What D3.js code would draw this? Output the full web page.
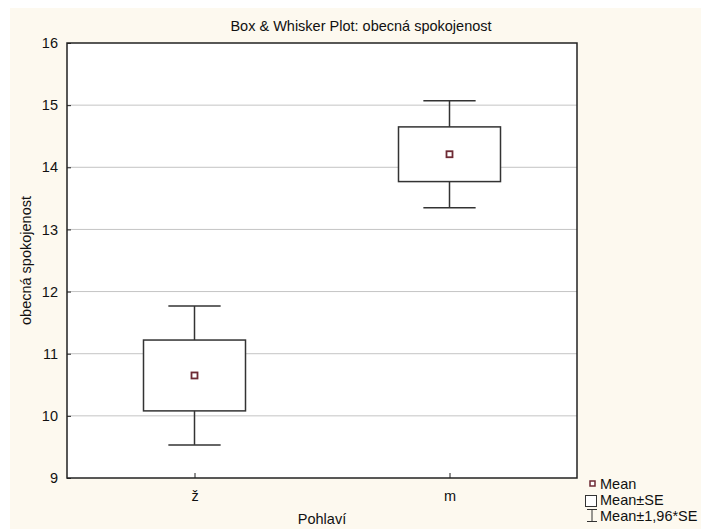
<!DOCTYPE html>
<html>
<head>
<meta charset="utf-8">
<script src="https://cdn.jsdelivr.net/npm/d3@7"></script>
<style>
  body { margin: 0; background: #fff; }
  text { font-family: "Liberation Sans", Arial, sans-serif; fill: #111; }
</style>
</head>
<body>
<div id="chart"></div>
<script>
// data
var groups = ['ž', 'm'];
var means = [10.65, 14.21];
var ses = [0.57, 0.44];
var y_ticks = [9, 10, 11, 12, 13, 14, 15, 16];
var legend_labels = ['Mean', 'Mean±SE', 'Mean±1,96*SE'];

var width = 701,
    height = 529,
    fs = '14.5px',
    margin = {left: 67, right: 124, top: 43, bottom: 51},
    x_scale = d3.scalePoint(),
    y_scale = d3.scaleLinear();

var plot_w = width - margin.left - margin.right,
    plot_h = height - margin.top - margin.bottom;

x_scale.domain(groups).range([0, plot_w]).padding(0.5);
y_scale.domain([9, 16]).range([plot_h, 0]);

var step = x_scale.step(),
    box_w = step * 0.4,
    cap_w = step * 0.205;

var svg = d3.select('#chart').append('svg')
    .attr('width', width)
    .attr('height', height);

// cream page background
svg.append('rect')
    .attr('x', 10).attr('y', 8)
    .attr('width', width - 10).attr('height', height - 8)
    .attr('fill', '#fdf9ef');

svg.append('text')
    .attr('x', 361).attr('y', 31)
    .attr('text-anchor', 'middle')
    .style('font-size', fs)
    .text('Box & Whisker Plot: obecná spokojenost');

var g = svg.append('g')
    .attr('transform', 'translate(' + margin.left + ',' + margin.top + ')');

g.append('rect')
    .attr('width', plot_w).attr('height', plot_h)
    .attr('fill', '#fff');

// grid
g.append('g').selectAll('line')
    .data(y_ticks.slice(1, -1))
    .enter().append('line')
    .attr('x1', 0).attr('x2', plot_w)
    .attr('y1', function(d) { return y_scale(d); })
    .attr('y2', function(d) { return y_scale(d); })
    .attr('stroke', '#c4c4c4')
    .attr('stroke-width', 1);

// axes, ticks inside
var y_axis = g.append('g')
    .call(d3.axisLeft(y_scale).tickValues(y_ticks).tickFormat(d3.format('d')).tickSize(-4).tickPadding(9));
var x_axis = g.append('g')
    .attr('transform', 'translate(0,' + plot_h + ')')
    .call(d3.axisBottom(x_scale).tickSize(-5).tickPadding(13));

[y_axis, x_axis].forEach(function(ax) {
    ax.select('.domain').remove();
    ax.attr('font-size', null).attr('font-family', null);
    ax.selectAll('.tick line').attr('stroke', '#222');
    ax.selectAll('.tick text')
        .style('font-size', fs)
        .attr('fill', '#111');
});

g.append('rect')
    .attr('width', plot_w).attr('height', plot_h)
    .attr('fill', 'none')
    .attr('stroke', '#222')
    .attr('stroke-width', 1.5);

// boxes and whiskers
var boxes = g.append('g').selectAll('g')
    .data(groups.map(function(k, i) { return {key: k, mean: means[i], se: ses[i]}; }))
    .enter().append('g')
    .attr('transform', function(d) { return 'translate(' + x_scale(d.key) + ',0)'; });

boxes.append('line')
    .attr('x1', 0).attr('x2', 0)
    .attr('y1', function(d) { return y_scale(d.mean + 1.96 * d.se); })
    .attr('y2', function(d) { return y_scale(d.mean - 1.96 * d.se); })
    .attr('stroke', '#333').attr('stroke-width', 1.5);

[1.96, -1.96].forEach(function(k) {
    boxes.append('line')
        .attr('x1', -cap_w / 2).attr('x2', cap_w / 2)
        .attr('y1', function(d) { return y_scale(d.mean + k * d.se); })
        .attr('y2', function(d) { return y_scale(d.mean + k * d.se); })
        .attr('stroke', '#333').attr('stroke-width', 1.5);
});

boxes.append('rect')
    .attr('x', -box_w / 2).attr('width', box_w)
    .attr('y', function(d) { return y_scale(d.mean + d.se); })
    .attr('height', function(d) { return y_scale(d.mean - d.se) - y_scale(d.mean + d.se); })
    .attr('fill', '#fff')
    .attr('stroke', '#333').attr('stroke-width', 1.5);

boxes.append('rect')
    .attr('x', -3).attr('width', 6)
    .attr('y', function(d) { return y_scale(d.mean) - 3; })
    .attr('height', 6)
    .attr('fill', '#fff')
    .attr('stroke', '#6e2a34').attr('stroke-width', 1.8);

// axis titles
svg.append('text')
    .attr('x', margin.left + plot_w / 2).attr('y', 524)
    .attr('text-anchor', 'middle')
    .style('font-size', fs)
    .text('Pohlaví');

svg.append('text')
    .attr('transform', 'translate(31,' + (margin.top + plot_h / 2) + ') rotate(-90)')
    .attr('text-anchor', 'middle')
    .style('font-size', fs)
    .text('obecná spokojenost');

// legend
var leg = svg.append('g').attr('transform', 'translate(591,0)');
leg.append('rect')
    .attr('x', -1).attr('y', 481).attr('width', 5).attr('height', 5)
    .attr('fill', '#fff').attr('stroke', '#6e2a34').attr('stroke-width', 1.5);
leg.append('rect')
    .attr('x', -5.5).attr('y', 495.5).attr('width', 11).attr('height', 11)
    .attr('fill', '#fff').attr('stroke', '#333').attr('stroke-width', 1);
leg.append('path')
    .attr('d', 'M-4,509.5H6M1,509.5V521.5M-4,521.5H6')
    .attr('fill', 'none').attr('stroke', '#333').attr('stroke-width', 1);

leg.selectAll('text.lab')
    .data(legend_labels)
    .enter().append('text')
    .attr('class', 'lab')
    .attr('x', 9)
    .attr('y', function(d, i) { return 489 + i * 16; })
    .style('font-size', fs)
    .text(function(d) { return d; });
</script>
</body>
</html>
